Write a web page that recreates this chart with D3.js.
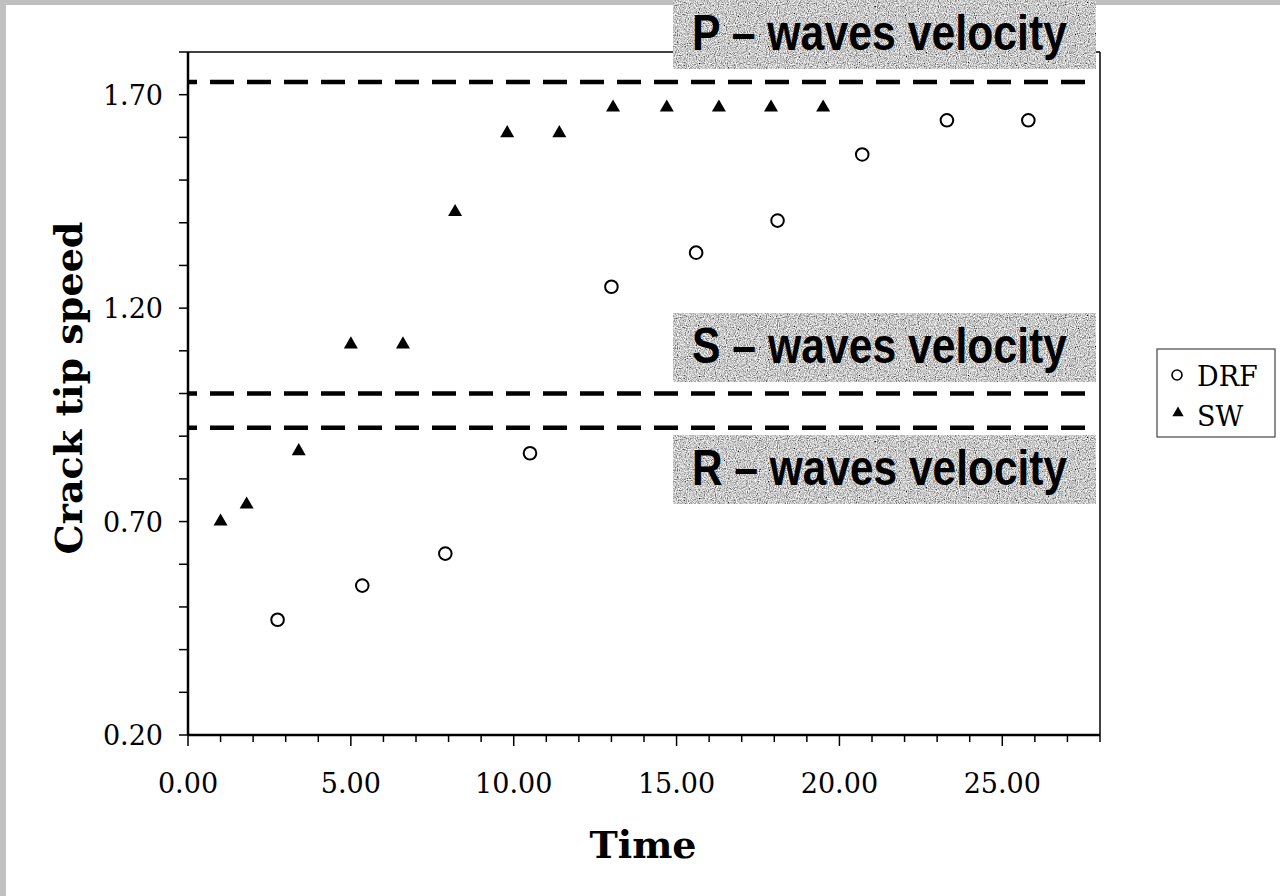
<!DOCTYPE html>
<html>
<head>
<meta charset="utf-8">
<script src="https://cdn.jsdelivr.net/npm/d3@7"></script>
<style>
  body { margin: 0; background: #fff; }
  svg { display: block; }
</style>
</head>
<body>
<div id="chart"></div>
<script>
// --- data ---
var drfTime  = [2.75, 5.35, 7.9, 10.5, 13.0, 15.6, 18.1, 20.7, 23.3, 25.8];
var drfSpeed = [0.47, 0.55, 0.625, 0.86, 1.25, 1.33, 1.405, 1.56, 1.64, 1.64];
var swTime   = [1.0, 1.8, 3.4, 5.0, 6.6, 8.2, 9.8, 11.4, 13.05, 14.7, 16.3, 17.9, 19.5];
var swSpeed  = [0.70, 0.74, 0.865, 1.115, 1.115, 1.425, 1.61, 1.61, 1.67, 1.67, 1.67, 1.67, 1.67];
var waveNames = ["P \u2013 waves velocity", "S \u2013 waves velocity", "R \u2013 waves velocity"];
var waveSpeed = [1.73, 1.00, 0.92];
var xMajor = [0, 5, 10, 15, 20, 25];
var yMajor = [0.2, 0.7, 1.2, 1.7];
var seriesNames = ["DRF", "SW"];

var W = 1280, H = 896;
var svg = d3.select("#chart").append("svg").attr("width", W).attr("height", H);

// frame of the picture
svg.append("rect").attr("width", W).attr("height", H).attr("fill", "#fff");
svg.append("rect").attr("x", 0).attr("y", 0).attr("width", W).attr("height", 5).attr("fill", "#c0c0c0");
svg.append("rect").attr("x", 0).attr("y", 0).attr("width", 6).attr("height", H).attr("fill", "#c0c0c0");

// noise texture for the label boxes
var defs = svg.append("defs");
var f = defs.append("filter").attr("id", "grain").attr("x", 0).attr("y", 0).attr("width", 1).attr("height", 1);
f.append("feTurbulence").attr("type", "fractalNoise").attr("baseFrequency", 0.9).attr("numOctaves", 2).attr("seed", 3).attr("result", "n");
f.append("feColorMatrix").attr("in", "n").attr("type", "matrix")
  .attr("values", "1.7 0 0 0 -0.27  1.7 0 0 0 -0.27  1.7 0 0 0 -0.27  0 0 0 0 1");

var pLeft = 188, pRight = 1100, pTop = 52, pBottom = 735;
var x = d3.scaleLinear().domain([0, 28]).range([pLeft, pRight]);
var y = d3.scaleLinear().domain([0.2, 1.8]).range([pBottom, pTop]);

var serif = "'DejaVu Serif', serif";

// top and right border of the plot
svg.append("line").attr("x1", pLeft).attr("x2", pRight).attr("y1", pTop).attr("y2", pTop)
  .attr("stroke", "#000").attr("stroke-width", 1.5);
svg.append("line").attr("x1", pRight).attr("x2", pRight).attr("y1", pTop).attr("y2", pBottom)
  .attr("stroke", "#000").attr("stroke-width", 1.5);

// x axis: minor ticks every unit, longer major ticks
var xMinor = d3.range(0, 29, 1);
var gx = svg.append("g");
gx.selectAll("line").data(xMinor).join("line")
  .attr("x1", d => x(d)).attr("x2", d => x(d))
  .attr("y1", pBottom).attr("y2", d => pBottom + (d % 5 === 0 ? 11 : 7))
  .attr("stroke", "#000").attr("stroke-width", 1.5);
gx.selectAll("text").data(xMajor).join("text")
  .attr("x", d => x(d)).attr("y", 793)
  .attr("text-anchor", "middle")
  .style("font-family", serif).style("font-size", "27px")
  .text(d => d3.format(".2f")(d));

// y axis: ticks every 0.1
var yMinor = d3.range(2, 19, 1).map(d => d / 10);
var gy = svg.append("g");
gy.selectAll("line").data(yMinor).join("line")
  .attr("x1", pLeft - 9).attr("x2", pLeft)
  .attr("y1", d => y(d)).attr("y2", d => y(d))
  .attr("stroke", "#000").attr("stroke-width", 1.5);
gy.selectAll("text").data(yMajor).join("text")
  .attr("x", 163).attr("y", d => y(d) + 10)
  .attr("text-anchor", "end")
  .style("font-family", serif).style("font-size", "27px")
  .text(d => d3.format(".2f")(d));

svg.append("line").attr("x1", pLeft).attr("x2", pLeft).attr("y1", pTop).attr("y2", pBottom)
  .attr("stroke", "#000").attr("stroke-width", 2.5);
svg.append("line").attr("x1", pLeft).attr("x2", pRight).attr("y1", pBottom).attr("y2", pBottom)
  .attr("stroke", "#000").attr("stroke-width", 2.5);

// wave velocity lines
svg.selectAll("line.wave").data(waveSpeed).join("line")
  .attr("class", "wave")
  .attr("x1", pLeft).attr("x2", pRight - 3)
  .attr("y1", d => y(d)).attr("y2", d => y(d))
  .attr("stroke", "#000").attr("stroke-width", 4.5)
  .attr("stroke-dasharray", "24 13").attr("stroke-dashoffset", 15);

// label boxes with grainy background
var boxTop = [0, 313, 435];
var lab = svg.selectAll("g.lab").data(waveNames).join("g").attr("class", "lab")
  .attr("transform", (d, i) => "translate(673," + boxTop[i] + ")");
lab.append("rect").attr("width", 423).attr("height", 69).attr("fill", "#aaa").attr("filter", "url(#grain)");
lab.append("text").attr("transform", "translate(19,50) scale(1,1.15)")
  .attr("textLength", 375).attr("lengthAdjust", "spacingAndGlyphs")
  .style("font-family", "'Liberation Sans', Arial, sans-serif")
  .style("font-weight", "bold").style("font-size", "44px")
  .text(d => d);

// data points
var tri = d3.symbol().type(d3.symbolTriangle).size(85);
svg.append("g").selectAll("path").data(swTime).join("path")
  .attr("d", tri)
  .attr("transform", (d, i) => "translate(" + x(d) + "," + y(swSpeed[i]) + ")")
  .attr("fill", "#000");
svg.append("g").selectAll("circle").data(drfTime).join("circle")
  .attr("cx", d => x(d)).attr("cy", (d, i) => y(drfSpeed[i]))
  .attr("r", 6.3).attr("fill", "#fff").attr("stroke", "#000").attr("stroke-width", 2);

// axis titles
svg.append("text").attr("x", 643).attr("y", 858).attr("text-anchor", "middle")
  .style("font-family", serif).style("font-weight", "bold").style("font-size", "38px")
  .text("Time");
svg.append("text").attr("transform", "translate(82,388) rotate(-90)")
  .attr("text-anchor", "middle")
  .attr("textLength", 333).attr("lengthAdjust", "spacingAndGlyphs")
  .style("font-family", serif).style("font-weight", "bold").style("font-size", "38px")
  .text("Crack tip speed");

// legend
var lg = svg.append("g").attr("transform", "translate(1157,349)");
lg.append("rect").attr("width", 118).attr("height", 88)
  .attr("fill", "#fff").attr("stroke", "#444").attr("stroke-width", 1.2);
lg.append("circle").attr("cx", 20).attr("cy", 26).attr("r", 5)
  .attr("fill", "#fff").attr("stroke", "#000").attr("stroke-width", 1.6);
lg.append("path").attr("d", d3.symbol().type(d3.symbolTriangle).size(55))
  .attr("transform", "translate(21,64)").attr("fill", "#000");
lg.selectAll("text").data(seriesNames).join("text")
  .attr("x", 40).attr("y", (d, i) => 37 + i * 40)
  .style("font-family", serif).style("font-size", "27px")
  .text(d => d);
</script>
</body>
</html>
